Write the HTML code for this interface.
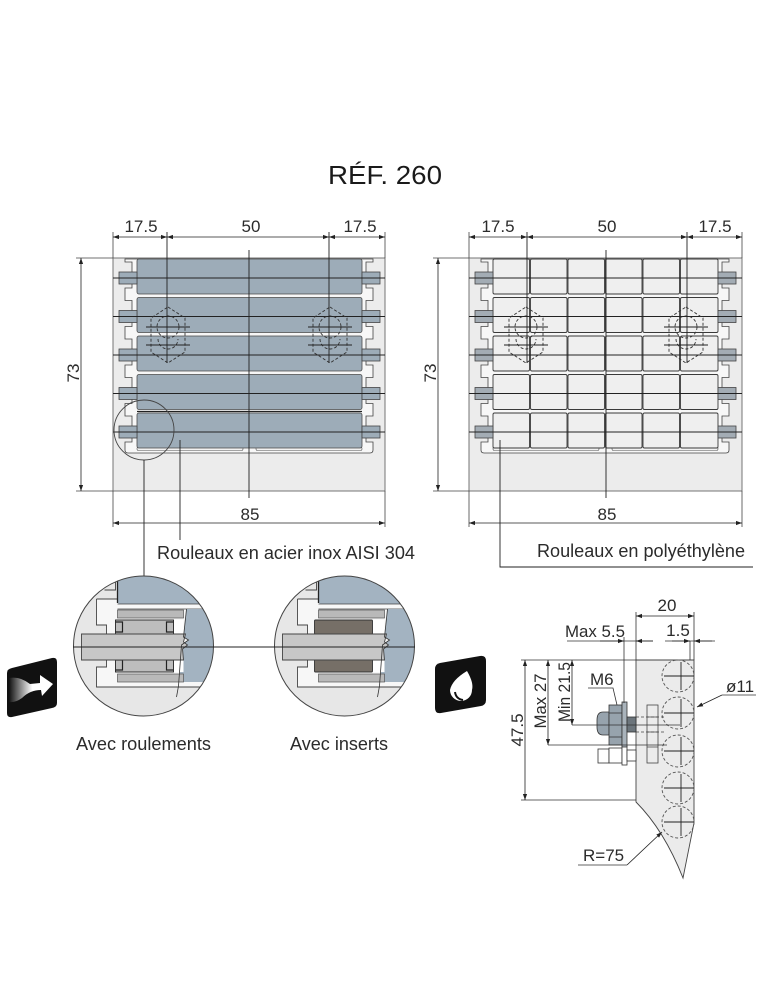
<!DOCTYPE html>
<html><head><meta charset="utf-8">
<style>
html,body{margin:0;padding:0;background:#fff;}
svg{display:block;}
text{font-family:"Liberation Sans",Arial,sans-serif;fill:#2b2b2b;}
</style></head><body>
<svg width="771" height="1000" viewBox="0 0 771 1000" xmlns="http://www.w3.org/2000/svg">
<defs>
<marker id="ar" viewBox="0 0 10 10" refX="10" refY="5" markerWidth="6" markerHeight="6" markerUnits="userSpaceOnUse" orient="auto-start-reverse"><path d="M0,1.5 L10,5 L0,8.5 z" fill="#222"/></marker>
<clipPath id="cc"><circle cx="0" cy="0" r="70"/></clipPath>
<linearGradient id="gr" x1="9" y1="0" x2="40" y2="0" gradientUnits="userSpaceOnUse"><stop offset="0" stop-color="#111"/><stop offset="0.75" stop-color="#fff"/></linearGradient>
<g id="prof">
<path d="M125,259 V262 H132 V288 H125 V300.5 H132 V326.5 H125 V339 H132 V365 H125 V377.5 H132 V403.5 H125 V416 H132 V442 H125 V450 Q125,453 128,453 H370 Q373,453 373,450 V442 H366 V416 H373 V403.5 H366 V377.5 H373 V365 H366 V339 H373 V326.5 H366 V300.5 H373 V288 H366 V262 H373 V259 Z" fill="#f7f7f7" stroke="#444" stroke-width="0.8"/>
<rect x="137" y="447" width="106" height="3.5" rx="1.5" fill="#f2f2f2" stroke="#555" stroke-width="0.6"/>
<rect x="256" y="447" width="106" height="3.5" rx="1.5" fill="#f2f2f2" stroke="#555" stroke-width="0.6"/>
</g>
<g id="bolt">
<polygon points="0,-28 17,-17 17,17 0,28 -17,17 -17,-17" fill="none" stroke="#333" stroke-width="0.9" stroke-dasharray="3,2"/>
<circle cx="0" cy="-8" r="11" fill="none" stroke="#333" stroke-width="0.9" stroke-dasharray="3,2"/>
<path d="M-10,4 A10,10 0 0 0 10,4" fill="none" stroke="#333" stroke-width="0.9" stroke-dasharray="3,2"/>
<path d="M-22,-8 H22 M-22,10 H22" stroke="#222" stroke-width="0.9"/>
</g>
</defs>

<!-- Title -->
<text x="385" y="184" font-size="26" text-anchor="middle" textLength="114" lengthAdjust="spacingAndGlyphs" style="fill:#1a1a1a">RÉF. 260</text>

<!-- ============ LEFT TOP DRAWING ============ -->
<rect x="113" y="258" width="272" height="233" fill="#ececec" stroke="#666" stroke-width="0.9"/>
<use href="#prof"/>
<g fill="#9dacb8" stroke="#4a4a4a" stroke-width="0.8">
<rect x="137" y="259" width="225" height="35" rx="2"/>
<rect x="137" y="297.5" width="225" height="35" rx="2"/>
<rect x="137" y="336" width="225" height="35" rx="2"/>
<rect x="137" y="374.5" width="225" height="35" rx="2"/>
<rect x="137" y="413" width="225" height="35" rx="2"/>
</g>
<path d="M137,411.5 H362" stroke="#222" stroke-width="1.3"/>
<g fill="#9dacb8" stroke="#444" stroke-width="0.8">
<rect x="119" y="272" width="18" height="12"/><rect x="119" y="310.5" width="18" height="12"/><rect x="119" y="349" width="18" height="12"/><rect x="119" y="387.5" width="18" height="12"/><rect x="119" y="426" width="18" height="12"/>
<rect x="362" y="272" width="18" height="12"/><rect x="362" y="310.5" width="18" height="12"/><rect x="362" y="349" width="18" height="12"/><rect x="362" y="387.5" width="18" height="12"/><rect x="362" y="426" width="18" height="12"/>
</g>
<path d="M113,278 H385 M113,316.5 H385 M113,355 H385 M113,393.5 H385 M113,432 H385" stroke="#222" stroke-width="0.9"/>
<use href="#bolt" x="168" y="335"/>
<use href="#bolt" x="330" y="335"/>
<path d="M167,232 V363 M329,232 V363 M249,250 V498" stroke="#222" stroke-width="0.9"/>
<!-- dims -->
<path d="M113,232 V258 M385,232 V258 M113,491 V527 M385,491 V527 M76,258 H113 M76,491 H113" stroke="#444" stroke-width="0.8"/>
<g stroke="#222" stroke-width="0.8" marker-start="url(#ar)" marker-end="url(#ar)">
<line x1="113" y1="237" x2="167" y2="237"/><line x1="167" y1="237" x2="329" y2="237"/><line x1="329" y1="237" x2="385" y2="237"/>
<line x1="113" y1="523" x2="385" y2="523"/>
<line x1="81" y1="258" x2="81" y2="491"/>
</g>
<text x="141" y="232" font-size="17" text-anchor="middle">17.5</text>
<text x="251" y="232" font-size="17" text-anchor="middle">50</text>
<text x="360" y="232" font-size="17" text-anchor="middle">17.5</text>
<text x="250" y="520" font-size="17" text-anchor="middle">85</text>
<text x="79" y="373" font-size="17" text-anchor="middle" transform="rotate(-90 79 373)">73</text>
<circle cx="144" cy="430" r="30" fill="none" stroke="#444" stroke-width="0.9"/>
<path d="M144,460 V576 M180,440 V540" stroke="#222" stroke-width="0.9"/>
<text x="157" y="559" font-size="18" textLength="258" lengthAdjust="spacingAndGlyphs">Rouleaux en acier inox AISI 304</text>

<!-- ============ RIGHT TOP DRAWING ============ -->
<rect x="469" y="258" width="273" height="233" fill="#ececec" stroke="#666" stroke-width="0.9"/>
<use href="#prof" x="356"/>
<g fill="#efefef" stroke="#3a3a3a" stroke-width="0.9">
<rect x="493" y="259" width="36.5" height="35" rx="1.5"/><rect x="530.5" y="259" width="36.5" height="35" rx="1.5"/><rect x="568" y="259" width="36.5" height="35" rx="1.5"/><rect x="605.5" y="259" width="36.5" height="35" rx="1.5"/><rect x="643" y="259" width="36.5" height="35" rx="1.5"/><rect x="680.5" y="259" width="37.5" height="35" rx="1.5"/>
<rect x="493" y="297.5" width="36.5" height="35" rx="1.5"/><rect x="530.5" y="297.5" width="36.5" height="35" rx="1.5"/><rect x="568" y="297.5" width="36.5" height="35" rx="1.5"/><rect x="605.5" y="297.5" width="36.5" height="35" rx="1.5"/><rect x="643" y="297.5" width="36.5" height="35" rx="1.5"/><rect x="680.5" y="297.5" width="37.5" height="35" rx="1.5"/>
<rect x="493" y="336" width="36.5" height="35" rx="1.5"/><rect x="530.5" y="336" width="36.5" height="35" rx="1.5"/><rect x="568" y="336" width="36.5" height="35" rx="1.5"/><rect x="605.5" y="336" width="36.5" height="35" rx="1.5"/><rect x="643" y="336" width="36.5" height="35" rx="1.5"/><rect x="680.5" y="336" width="37.5" height="35" rx="1.5"/>
<rect x="493" y="374.5" width="36.5" height="35" rx="1.5"/><rect x="530.5" y="374.5" width="36.5" height="35" rx="1.5"/><rect x="568" y="374.5" width="36.5" height="35" rx="1.5"/><rect x="605.5" y="374.5" width="36.5" height="35" rx="1.5"/><rect x="643" y="374.5" width="36.5" height="35" rx="1.5"/><rect x="680.5" y="374.5" width="37.5" height="35" rx="1.5"/>
<rect x="493" y="413" width="36.5" height="35" rx="1.5"/><rect x="530.5" y="413" width="36.5" height="35" rx="1.5"/><rect x="568" y="413" width="36.5" height="35" rx="1.5"/><rect x="605.5" y="413" width="36.5" height="35" rx="1.5"/><rect x="643" y="413" width="36.5" height="35" rx="1.5"/><rect x="680.5" y="413" width="37.5" height="35" rx="1.5"/>
</g>
<g fill="#a3acb4" stroke="#444" stroke-width="0.8">
<rect x="475" y="272" width="18" height="12"/><rect x="475" y="310.5" width="18" height="12"/><rect x="475" y="349" width="18" height="12"/><rect x="475" y="387.5" width="18" height="12"/><rect x="475" y="426" width="18" height="12"/>
<rect x="718" y="272" width="18" height="12"/><rect x="718" y="310.5" width="18" height="12"/><rect x="718" y="349" width="18" height="12"/><rect x="718" y="387.5" width="18" height="12"/><rect x="718" y="426" width="18" height="12"/>
</g>
<path d="M469,278 H742 M469,316.5 H742 M469,355 H742 M469,393.5 H742 M469,432 H742" stroke="#222" stroke-width="0.9"/>
<use href="#bolt" x="526" y="335"/>
<use href="#bolt" x="686" y="335"/>
<path d="M527,232 V363 M687,232 V363 M606,250 V498" stroke="#222" stroke-width="0.9"/>
<path d="M469,232 V258 M742,232 V258 M469,491 V527 M742,491 V527 M433,258 H469 M433,491 H469" stroke="#444" stroke-width="0.8"/>
<g stroke="#222" stroke-width="0.8" marker-start="url(#ar)" marker-end="url(#ar)">
<line x1="469" y1="237" x2="527" y2="237"/><line x1="527" y1="237" x2="687" y2="237"/><line x1="687" y1="237" x2="742" y2="237"/>
<line x1="469" y1="523" x2="742" y2="523"/>
<line x1="438" y1="258" x2="438" y2="491"/>
</g>
<text x="498" y="232" font-size="17" text-anchor="middle">17.5</text>
<text x="607" y="232" font-size="17" text-anchor="middle">50</text>
<text x="715" y="232" font-size="17" text-anchor="middle">17.5</text>
<text x="607" y="520" font-size="17" text-anchor="middle">85</text>
<text x="436" y="373" font-size="17" text-anchor="middle" transform="rotate(-90 436 373)">73</text>
<path d="M500,440 V567 H753" fill="none" stroke="#222" stroke-width="0.9"/>
<text x="537" y="557" font-size="18" textLength="208" lengthAdjust="spacingAndGlyphs">Rouleaux en polyéthylène</text>

<!-- ============ DETAIL CIRCLES ============ -->
<g transform="translate(143.5,646)">
<g clip-path="url(#cc)">
<circle cx="0" cy="0" r="70" fill="#e7e7e7"/>
<path d="M-47,-47 L75,-47 L75,41 L-47,41 L-47,21 L-37,21 L-37,-21 L-47,-21 Z" fill="#f7f7f7"/>
<path d="M-47,-47 V-21 H-37 V-12 M-37,14 V21 H-47 V41 H75 M-47,-47 H-26 M-39,-56 H-28 V-75" fill="none" stroke="#444" stroke-width="0.9"/>
<path d="M-26,-75 V-45 Q-26,-42 -23,-42 H75 V-75 Z" fill="#a3b3c1"/>
<path d="M-26,-75 V-43" stroke="#222" stroke-width="1.3"/>
<rect x="-26" y="-42" width="101" height="5" fill="#f8f8f8"/>
<path d="M-26,-42 H75 M-26,-37 H75" stroke="#444" stroke-width="0.8"/>
<path d="M43,-37 L40,-9 L45,-6 L38,-1 L36,36 L75,36 L75,-37 Z" fill="#a3b3c1"/>
<rect x="-26" y="-36" width="66" height="8" fill="#b9b9b9" stroke="#555" stroke-width="0.7"/>
<rect x="-26" y="28" width="66" height="8" fill="#b9b9b9" stroke="#555" stroke-width="0.7"/>
<rect x="30" y="-26" width="10" height="14" fill="#fff"/>
<rect x="30" y="12" width="10" height="14" fill="#fff"/>
<rect x="-28" y="-26" width="58" height="14" fill="#bdbdbd" stroke="#222" stroke-width="0.9"/>
<rect x="-28" y="12" width="58" height="14" fill="#bdbdbd" stroke="#222" stroke-width="0.9"/>
<path d="M-28,-24 H-21 V-14 H-28 M30,-24 H23 V-14 H30 M-28,14 H-21 V24 H-28 M30,14 H23 V24 H30" fill="none" stroke="#222" stroke-width="1.2"/>
<path d="M-62,-12 H42 L40,-4 L44,-1 L39,3 L40,14 H-62 Z" fill="#c7c7c7" stroke="#444" stroke-width="0.9"/>
<path d="M43,-37 L40,-9 L45,-6 L38,-1 L35,40 L33,51" fill="none" stroke="#333" stroke-width="0.8"/>
</g>
<circle cx="0" cy="0" r="70" fill="none" stroke="#444" stroke-width="1"/>
</g>

<g transform="translate(344.5,646)">
<g clip-path="url(#cc)">
<circle cx="0" cy="0" r="70" fill="#e7e7e7"/>
<path d="M-47,-47 L75,-47 L75,41 L-47,41 L-47,21 L-37,21 L-37,-21 L-47,-21 Z" fill="#f7f7f7"/>
<path d="M-47,-47 V-21 H-37 V-12 M-37,14 V21 H-47 V41 H75 M-47,-47 H-26 M-39,-56 H-28 V-75" fill="none" stroke="#444" stroke-width="0.9"/>
<path d="M-26,-75 V-45 Q-26,-42 -23,-42 H75 V-75 Z" fill="#a3b3c1"/>
<path d="M-26,-75 V-43" stroke="#222" stroke-width="1.3"/>
<rect x="-26" y="-42" width="101" height="5" fill="#f8f8f8"/>
<path d="M-26,-42 H75 M-26,-37 H75" stroke="#444" stroke-width="0.8"/>
<path d="M43,-37 L40,-9 L45,-6 L38,-1 L36,36 L75,36 L75,-37 Z" fill="#a3b3c1"/>
<rect x="-26" y="-36" width="66" height="8" fill="#b9b9b9" stroke="#555" stroke-width="0.7"/>
<rect x="-26" y="28" width="66" height="8" fill="#b9b9b9" stroke="#555" stroke-width="0.7"/>
<rect x="28" y="-26" width="12" height="14" fill="#fff"/>
<rect x="28" y="12" width="12" height="14" fill="#fff"/>
<rect x="-30" y="-26" width="58" height="14" rx="1" fill="#766f67" stroke="#333" stroke-width="0.9"/>
<rect x="-30" y="12" width="58" height="14" rx="1" fill="#766f67" stroke="#333" stroke-width="0.9"/>
<path d="M-62,-12 H42 L40,-4 L44,-1 L39,3 L40,14 H-62 Z" fill="#c7c7c7" stroke="#444" stroke-width="0.9"/>
<path d="M43,-37 L40,-9 L45,-6 L38,-1 L35,40 L33,51" fill="none" stroke="#333" stroke-width="0.8"/>
</g>
<circle cx="0" cy="0" r="70" fill="none" stroke="#444" stroke-width="1"/>
</g>
<path d="M73,647 H415" stroke="#222" stroke-width="0.9"/>

<text x="143.5" y="750" font-size="18" text-anchor="middle" textLength="135" lengthAdjust="spacingAndGlyphs">Avec roulements</text>
<text x="339" y="750" font-size="18" text-anchor="middle" textLength="98" lengthAdjust="spacingAndGlyphs">Avec inserts</text>

<!-- icons -->
<path d="M12,668 L52,658 Q57,657 57,662 L57,703 Q57,707 52,708 L12,717 Q7,718 7,713 L7,673 Q7,669 12,668 Z" fill="#111"/>
<path d="M9,678 Q20,676 30,684 L40,683 L40,675 L53,684 L42,696 L41,690 Q30,690 22,698 Q15,703 9,702 Z" fill="url(#gr)"/>
<path d="M440,663 L480,656 Q486,655 486,661 L486,700 Q486,705 481,706 L441,713 Q435,714 435,708 L435,669 Q435,664 440,663 Z" fill="#111"/>
<path d="M467,671 Q474,683 472,690 A11,11 0 1 1 450,690 Q452,680 467,671 Z" fill="#fff"/>
<path d="M455,692 Q456,699 463,700" fill="none" stroke="#111" stroke-width="2"/>

<!-- ============ SIDE VIEW ============ -->
<path d="M636,660 H694 V823 L683,878 Q664,830 636,802 Z" fill="#ebebeb" stroke="#444" stroke-width="0.9"/>
<g fill="none" stroke="#555" stroke-width="0.9" stroke-dasharray="3,2">
<circle cx="678" cy="676" r="16"/><circle cx="678" cy="713" r="16"/><circle cx="678" cy="751" r="16"/><circle cx="678" cy="788" r="16"/><circle cx="678" cy="822" r="16"/>
</g>
<path d="M664,676 H694 M681,662 V690 M664,713 H694 M681,699 V727 M664,751 H694 M681,737 V765 M664,788 H694 M681,774 V802 M664,822 H694 M681,808 V836" stroke="#222" stroke-width="0.9"/>
<!-- bolts -->
<rect x="647" y="705" width="11" height="58" fill="none" stroke="#444" stroke-width="0.8"/>
<path d="M647,717 H658 M647,732 H658 M647,747 H658" stroke="#444" stroke-width="0.7"/>
<path d="M636,717 H665 M636,732 H665" stroke="#444" stroke-width="0.8" stroke-dasharray="3,2"/>
<g fill="#fff" stroke="#333" stroke-width="0.8">
<rect x="598" y="749" width="11" height="14"/><rect x="609" y="748" width="13" height="15"/><rect x="622" y="746" width="5" height="19"/><rect x="627" y="750" width="9" height="11"/>
</g>
<path d="M609,712 H603 Q597,712 597,720 V727 Q597,735 603,735 H609 Z" fill="#97a3ad" stroke="#333" stroke-width="0.8"/>
<rect x="609" y="705" width="13" height="40" fill="#97a3ad" stroke="#333" stroke-width="0.8"/>
<path d="M609,713 H622 M609,737 H622" stroke="#333" stroke-width="0.7"/>
<rect x="622" y="702" width="5" height="45" fill="#a9b3bb" stroke="#333" stroke-width="0.8"/>
<rect x="627" y="717" width="9" height="15" fill="#6c757c" stroke="#333" stroke-width="0.8"/>
<!-- lines -->
<path d="M572,725 H680 M548,745 H667 M521,660 H636 M521,800 H636 M636,612 V660 M694,612 V660 M624,637 V703 M690,641 V660" fill="none" stroke="#333" stroke-width="0.8"/>
<path d="M567,641 H653 M665,641 H715" stroke="#333" stroke-width="0.8"/>
<g stroke="#222" stroke-width="0.8" marker-start="url(#ar)" marker-end="url(#ar)">
<line x1="636" y1="616" x2="694" y2="616"/>
<line x1="525" y1="660" x2="525" y2="800"/>
<line x1="548" y1="660" x2="548" y2="745"/>
<line x1="572" y1="660" x2="572" y2="725"/>
</g>
<g stroke="#222" stroke-width="0.8" marker-end="url(#ar)" fill="none">
<line x1="600" y1="641" x2="624" y2="641"/>
<line x1="653" y1="641" x2="636" y2="641"/>
<line x1="672" y1="641" x2="690" y2="641"/>
<line x1="712" y1="641" x2="694" y2="641"/>
<path d="M722,695 L697,707"/>
<path d="M627,865 L662,832"/>
</g>
<path d="M588,688 H613 L617,705 M722,695 H756 M578,865 H627" fill="none" stroke="#333" stroke-width="0.8"/>
<text x="667" y="611" font-size="17" text-anchor="middle">20</text>
<text x="565" y="637" font-size="17" textLength="60" lengthAdjust="spacingAndGlyphs">Max 5.5</text>
<text x="678" y="636" font-size="17" text-anchor="middle">1.5</text>
<text x="590" y="685" font-size="17">M6</text>
<text x="726" y="692" font-size="17">ø11</text>
<text x="583" y="861" font-size="17">R=75</text>
<text x="523" y="730" font-size="17" text-anchor="middle" transform="rotate(-90 523 730)">47.5</text>
<text x="546" y="701" font-size="17" text-anchor="middle" textLength="55" lengthAdjust="spacingAndGlyphs" transform="rotate(-90 546 701)">Max 27</text>
<text x="570" y="692" font-size="17" text-anchor="middle" textLength="60" lengthAdjust="spacingAndGlyphs" transform="rotate(-90 570 692)">Min 21.5</text>
</svg>
</body></html>
